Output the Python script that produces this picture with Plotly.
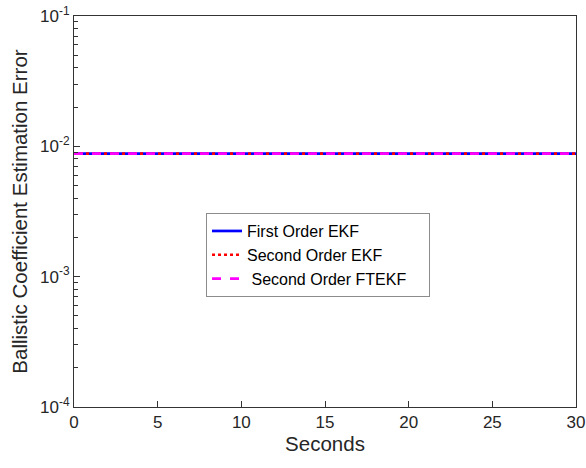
import plotly.graph_objects as go

time_s = [0, 5, 10, 15, 20, 25, 30]
first_order_ekf = [0.0088, 0.0088, 0.0088, 0.0088, 0.0088, 0.0088, 0.0088]
second_order_ekf = [0.0088, 0.0088, 0.0088, 0.0088, 0.0088, 0.0088, 0.0088]
second_order_ftekf = [0.0088, 0.0088, 0.0088, 0.0088, 0.0088, 0.0088, 0.0088]

x_ticks = [0, 5, 10, 15, 20, 25, 30]
y_major = [1e-4, 1e-3, 1e-2, 1e-1]
y_major_text = ["10<sup>-4</sup>", "10<sup>-3</sup>", "10<sup>-2</sup>", "10<sup>-1</sup>"]
y_minor = [m * 10.0 ** e for e in (-4, -3, -2) for m in range(2, 10)]

fig = go.Figure()
fig.add_trace(go.Scatter(x=time_s, y=first_order_ekf, mode="lines", name="First Order EKF",
                         line=dict(color="#0000ff", width=2.7, dash="solid")))
fig.add_trace(go.Scatter(x=time_s, y=second_order_ekf, mode="lines", name="Second Order EKF",
                         line=dict(color="#ff0000", width=2.7, dash="dot")))
fig.add_trace(go.Scatter(x=time_s, y=second_order_ftekf, mode="lines",
                         name="\u00a0Second Order FTEKF\u00a0\u00a0\u00a0\u00a0",
                         line=dict(color="#ff00ff", width=2.7, dash="dash")))

tickfont = dict(family="Liberation Sans, Arial", size=17, color="#262626")
axis_common = dict(showgrid=False, zeroline=False, showline=True, linecolor="#333333", linewidth=1,
                   mirror=True, ticks="inside", ticklen=6, tickwidth=1, tickcolor="#333333",
                   tickfont=tickfont, automargin=False, layer="above traces")

fig.update_layout(
    width=586, height=468,
    margin=dict(l=74, r=10, t=16, b=61),
    paper_bgcolor="white", plot_bgcolor="white",
    font=dict(family="Liberation Sans, Arial", color="#262626"),
    xaxis=dict(range=[0, 30], tickvals=x_ticks, title=dict(text="Seconds", font=dict(size=20.5), standoff=4),
               **axis_common),
    yaxis=dict(type="log", range=[-4, -1], tickvals=y_major, ticktext=y_major_text,
               minor=dict(tickvals=y_minor, ticks="inside", ticklen=4, tickwidth=1,
                          tickcolor="#333333", showgrid=False),
               title=dict(text="Ballistic Coefficient Estimation Error", font=dict(size=20.5), standoff=6),
               **axis_common),
    legend=dict(x=0.263, y=0.496, xanchor="left", yanchor="top", bgcolor="white",
                bordercolor="#8c8c8c", borderwidth=1, font=dict(size=16, color="#000000"),
                tracegroupgap=0),
    showlegend=True,
)

fig.write_html("out.html", config={"displayModeBar": False},
               post_script="document.body.style.margin='0';")
